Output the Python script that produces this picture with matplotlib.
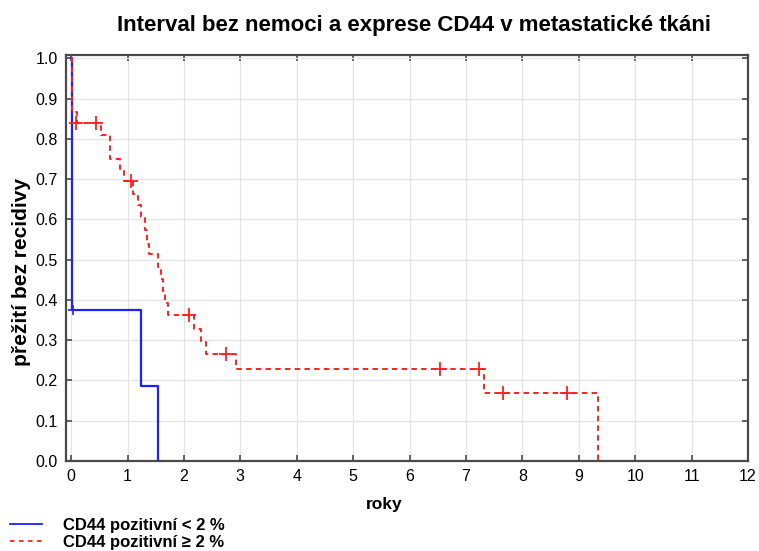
import numpy as np
import matplotlib.pyplot as plt
from matplotlib.lines import Line2D

plt.rcParams['font.family'] = ['Liberation Sans', 'DejaVu Sans']

# Kaplan-Meier: CD44 pozitivní < 2 %
low_times = [0.0, 0.02, 1.24, 1.54]
low_surv = [1.0, 0.375, 0.1875, 0.0]
low_cens_t = [0.03]
low_cens_s = [0.375]

# Kaplan-Meier: CD44 pozitivní >= 2 %
high_times = [0.0, 0.02, 0.10, 0.53, 0.69, 0.87, 0.94, 1.10, 1.18, 1.24, 1.31,
              1.35, 1.38, 1.54, 1.60, 1.63, 1.66, 1.71, 2.18, 2.30, 2.39, 2.92,
              7.32, 9.34]
high_surv = [1.0, 0.867, 0.839, 0.809, 0.751, 0.724, 0.695, 0.664, 0.635, 0.606,
             0.573, 0.540, 0.514, 0.483, 0.453, 0.423, 0.393, 0.362, 0.329, 0.296,
             0.265, 0.2275, 0.170, 0.0]
high_cens_t = [0.08, 0.44, 1.07, 2.09, 2.74, 6.54, 7.23, 7.66, 8.80]
high_cens_s = [0.839, 0.839, 0.695, 0.362, 0.265, 0.2275, 0.2275, 0.170, 0.170]

labels = ['CD44 pozitivní < 2 %', 'CD44 pozitivní ≥ 2 %']

fig = plt.figure(figsize=(7.59, 5.51), dpi=100)
ax = fig.add_axes([0.087, 0.1633, 0.8985, 0.7367])

red_dash = (2.8, 2.2)
ax.step(low_times, low_surv, where='post', color='#1f1fff', lw=1.6, zorder=3)
ax.plot(low_cens_t, low_cens_s, '+', color='#1f1fff', ms=7, mew=1.2, zorder=4)
ax.step(high_times, high_surv, where='post', color='#ff2020', lw=1.4,
        dashes=red_dash, zorder=3)
ax.plot(high_cens_t, high_cens_s, '+', color='#ff2020', ms=10, mew=1.3, zorder=4)

ax.set_xlim(-0.09, 12)
ax.set_ylim(0, 1.008)
ax.set_xticks(np.arange(0, 13, 1))
ax.set_yticks(np.arange(0, 1.01, 0.1))
ax.set_yticklabels([f'{v:.1f}' for v in np.arange(0, 1.01, 0.1)])
ax.grid(True, color='#e4e4e4', lw=0.9)
ax.set_axisbelow(True)

for s in ax.spines.values():
    s.set_color('#4a4a4a')
    s.set_linewidth(1.6)
ax.tick_params(direction='in', length=4, width=1.2, color='#4a4a4a',
               top=True, right=True, labelsize=11.5, pad=6)

ax.set_xlabel('roky', fontsize=12.5, fontweight='bold')
ax.xaxis.set_label_coords(0.466, -0.088)
ax.set_ylabel('přežití bez recidivy', fontsize=15, fontweight='bold')
ax.yaxis.set_label_coords(-0.052, 0.465)
fig.suptitle('Interval bez nemoci a exprese CD44 v metastatické tkáni',
             fontsize=16, fontweight='bold', x=0.545, y=0.972)

handles = [Line2D([], [], color='#1f1fff', lw=1.3),
           Line2D([], [], color='#ff2020', lw=1.3, dashes=(2.5, 2.5))]
fig.legend(handles, labels, loc='lower left', bbox_to_anchor=(0.0, -0.016),
           frameon=False, prop={'weight': 'bold', 'size': 12},
           handlelength=1.9, handletextpad=1.3, labelspacing=0.12,
           borderaxespad=0.2)

fig.savefig('out.png', dpi=100)
